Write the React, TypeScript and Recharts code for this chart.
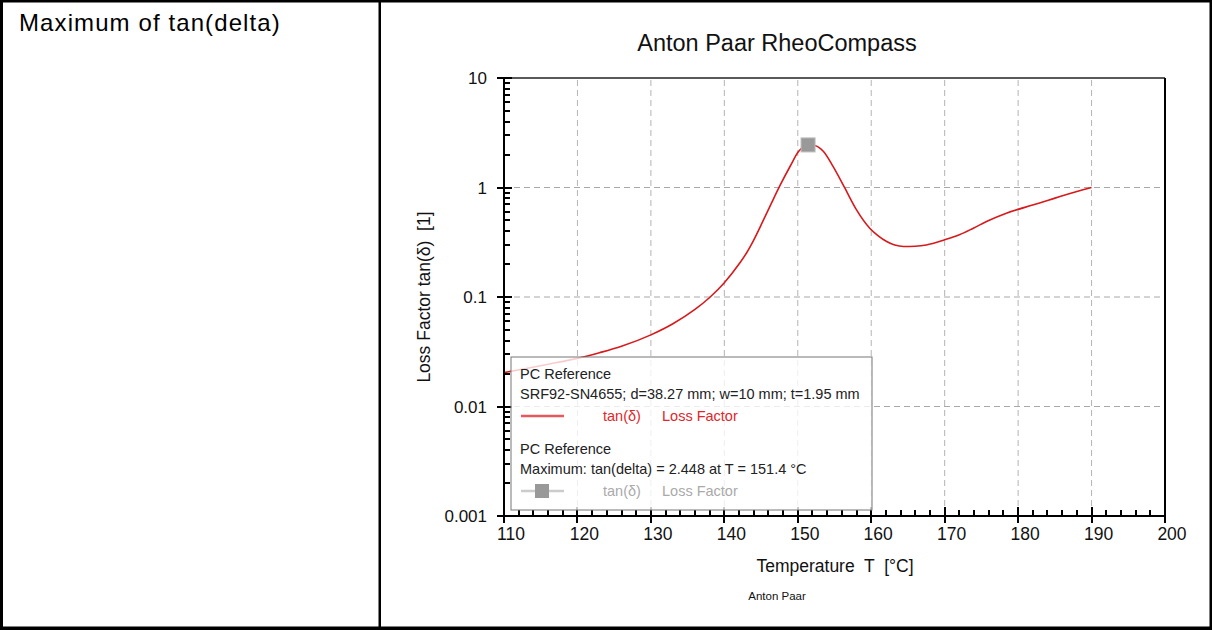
import React from 'react';
import {
  ComposedChart,
  Line,
  Scatter,
  XAxis,
  YAxis,
  ReferenceLine,
} from 'recharts';

// temperature T [°C] and loss factor tan(delta)
const temperatures = [
  110, 113, 116, 120, 123, 126, 130, 133, 136, 138, 140, 142, 143, 144, 145.3,
  146.5, 147.6, 149, 150.1, 151.4, 152.3, 153.5, 154.8, 156.4, 158, 159.8, 161,
  162.1, 163.2, 164.4, 166, 167.5, 170, 172, 173.9, 176, 178.4, 182.1, 184,
  185.7, 188, 190,
];
const tanDelta = [
  0.0204, 0.0222, 0.0243, 0.0275, 0.031, 0.0355, 0.0451, 0.057, 0.077, 0.099,
  0.135, 0.2, 0.251, 0.331, 0.5, 0.74, 1.05, 1.58, 2.13, 2.448, 2.42, 2.13, 1.56,
  0.99, 0.625, 0.425, 0.36, 0.321, 0.298, 0.289, 0.291, 0.299, 0.333, 0.37,
  0.425, 0.5, 0.583, 0.695, 0.76, 0.827, 0.92, 1.0,
];
const peakT = [151.4];
const peakTanDelta = [2.448];

const xMajorTicks = [110, 120, 130, 140, 150, 160, 170, 180, 190, 200];
const xMinorSteps = [0, 2, 4, 6, 8];
const yDecades = [0.001, 0.01, 0.1, 1, 10];
const yLabels = ['0.001', '0.01', '0.1', '1', '10'];
const yMinorFactors = [1, 2, 3, 4, 5, 6, 7, 8, 9];
const xGrid = [120, 130, 140, 150, 160, 170, 180, 190];
const yGrid = [0.01, 0.1, 1];

const curve = temperatures.map((t, i) => ({ t, v: tanDelta[i] }));
const peak = peakT.map((t, i) => ({ t, v: peakTanDelta[i] }));

const xTicks = xMajorTicks.flatMap((m, i) =>
  i < xMajorTicks.length - 1 ? xMinorSteps.map((s) => m + s) : [m]
);
const yTicks = yDecades.flatMap((d, i) =>
  i < yDecades.length - 1
    ? yMinorFactors.map((f) => Number((d * f).toPrecision(3)))
    : [d]
);

const FONT = '"Liberation Sans", Arial, sans-serif';
const RED = '#d7191c';

const XTick = ({ x, y, payload }: any) => {
  const v = payload.value;
  const px = Math.round(x);
  if (v % 10 !== 0) {
    return <line x1={px} x2={px} y1={y - 6} y2={y} stroke="#000" strokeWidth={2} />;
  }
  return (
    <g>
      <line x1={px} x2={px} y1={y - 9} y2={y + 7} stroke="#000" strokeWidth={2} />
      <text x={x + 7} y={y + 24} textAnchor="middle" fontSize={17.5} fill="#111">
        {v}
      </text>
    </g>
  );
};

const YTick = ({ x, y, payload }: any) => {
  const idx = yDecades.indexOf(payload.value);
  const py = Math.round(y);
  if (idx < 0) {
    return <line x1={x} x2={x + 6} y1={py} y2={py} stroke="#000" strokeWidth={2} />;
  }
  return (
    <g>
      <line x1={x - 7} x2={x + 8} y1={py} y2={py} stroke="#000" strokeWidth={2} />
      <text x={x - 17} y={y + 6} textAnchor="end" fontSize={17} fill="#111">
        {yLabels[idx]}
      </text>
    </g>
  );
};

const PeakSquare = ({ cx, cy }: any) => (
  <rect x={cx - 7} y={cy - 7} width={14} height={14} fill="#999" stroke="#bbb" strokeWidth={1} />
);

const App: React.FC = () => {
  return (
    <div
      style={{
        position: 'absolute',
        left: 0,
        top: 0,
        width: 1212,
        height: 630,
        background: '#fff',
        fontFamily: FONT,
      }}
    >
      <div style={{ position: 'absolute', left: 0, top: 0 }}>
        <ComposedChart
          width={1212}
          height={630}
          margin={{ top: 78, right: 47, bottom: 74, left: 424 }}
        >
          <XAxis
            dataKey="t"
            type="number"
            domain={[110, 200]}
            ticks={xTicks}
            interval={0}
            height={40}
            tickLine={false}
            tickSize={0}
            tickMargin={0}
            tick={<XTick />}
            axisLine={{ stroke: '#000', strokeWidth: 2 }}
            allowDataOverflow
          />
          <YAxis
            dataKey="v"
            type="number"
            scale="log"
            domain={[0.001, 10]}
            ticks={yTicks}
            interval={0}
            width={80}
            tickLine={false}
            tickSize={0}
            tickMargin={0}
            tick={<YTick />}
            axisLine={{ stroke: '#000', strokeWidth: 2 }}
            allowDataOverflow
          />
          {xGrid.map((g) => (
            <ReferenceLine key={'x' + g} x={g} stroke="#b4b4b4" strokeDasharray="6 4" />
          ))}
          {yGrid.map((g) => (
            <ReferenceLine key={'y' + g} y={g} stroke="#a8a8a8" strokeDasharray="6 4" />
          ))}
          <ReferenceLine y={10} stroke="#222" strokeWidth={1.5} />
          <ReferenceLine x={200} stroke="#000" strokeWidth={2} />
          <Line
            data={curve}
            dataKey="v"
            type="monotone"
            stroke={RED}
            strokeWidth={1.6}
            dot={false}
            isAnimationActive={false}
          />
          <Scatter
            data={peak}
            dataKey="v"
            shape={<PeakSquare />}
            isAnimationActive={false}
          />
        </ComposedChart>
      </div>

      <svg
        width={1212}
        height={630}
        style={{ position: 'absolute', left: 0, top: 0, pointerEvents: 'none', fontFamily: FONT }}
      >
        {/* table borders */}
        <rect x={0} y={0} width={1212} height={2.5} fill="#000" />
        <rect x={0} y={0} width={3} height={630} fill="#000" />
        <rect x={0} y={626.5} width={1212} height={3.5} fill="#000" />
        <rect x={1209.5} y={0} width={2.5} height={630} fill="#000" />
        <rect x={378.5} y={0} width={2.5} height={630} fill="#000" />

        <text x={19} y={31} fontSize={24} letterSpacing={1.1} fill="#000">
          Maximum of tan(delta)
        </text>
        <text x={777} y={51} fontSize={23.5} textAnchor="middle" fill="#111">
          Anton Paar RheoCompass
        </text>
        <text
          x={430}
          y={297}
          fontSize={17.5}
          textAnchor="middle"
          fill="#111"
          transform="rotate(-90 430 297)"
          style={{ whiteSpace: 'pre' }}
        >
          Loss Factor tan(δ)  [1]
        </text>
        <text x={835} y={572} fontSize={17.5} textAnchor="middle" fill="#111" style={{ whiteSpace: 'pre' }}>
          Temperature  T  [°C]
        </text>
        <text x={777} y={600} fontSize={11.5} textAnchor="middle" fill="#111">
          Anton Paar
        </text>

        {/* legend */}
        <rect
          x={511}
          y={357}
          width={361}
          height={153}
          fill="rgba(255,255,255,0.78)"
          stroke="#777"
          strokeWidth={1}
        />
        <g fontSize={14.5}>
          <text x={520} y={379} fill="#222">PC Reference</text>
          <text x={520} y={399} fill="#222">
            SRF92-SN4655; d=38.27 mm; w=10 mm; t=1.95 mm
          </text>
          <line x1={521} x2={564} y1={416} y2={416} stroke="#e8585c" strokeWidth={2.5} />
          <text x={603} y={421} fill="#e0262b">tan(δ)</text>
          <text x={662} y={421} fill="#e0262b">Loss Factor</text>
          <text x={520} y={454} fill="#222">PC Reference</text>
          <text x={520} y={474} fill="#222">
            {`Maximum: tan(delta) = ${peakTanDelta[0]} at T = ${peakT[0]} °C`}
          </text>
          <line x1={521} x2={564} y1={491} y2={491} stroke="#ccc" strokeWidth={2.5} />
          <rect x={535} y={484} width={14} height={14} fill="#999" />
          <text x={603} y={496} fill="#aaa">tan(δ)</text>
          <text x={662} y={496} fill="#aaa">Loss Factor</text>
        </g>
      </svg>
    </div>
  );
};

export default App;
